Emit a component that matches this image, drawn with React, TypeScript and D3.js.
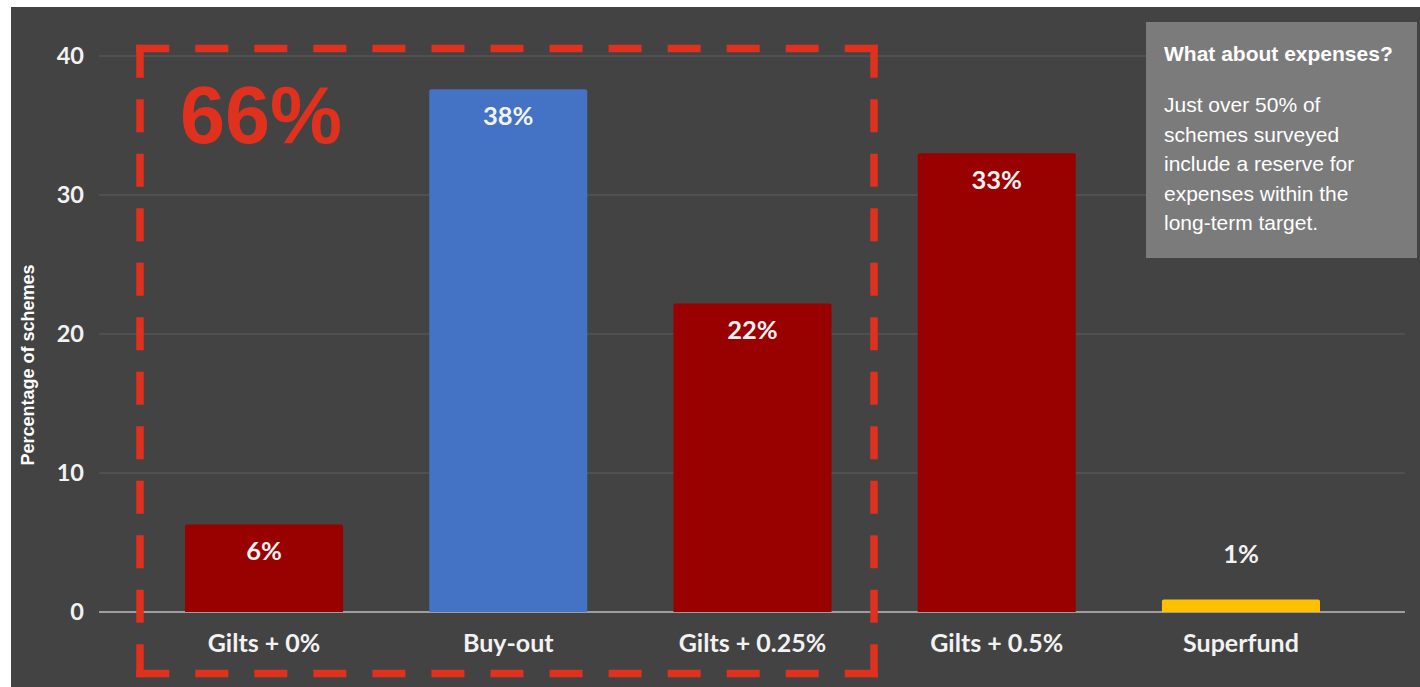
import React from "react";
import * as d3 from "d3";

const categories = ["Gilts + 0%", "Buy-out", "Gilts + 0.25%", "Gilts + 0.5%", "Superfund"];
const values = [6.3, 37.6, 22.2, 33.0, 0.9];
const valueLabels = ["6%", "38%", "22%", "33%", "1%"];
const barColors = ["#990000", "#4472C4", "#990000", "#990000", "#FFC000"];
const yTicks = [0, 10, 20, 30, 40];
const highlightLabel = "66%";
const boxTitle = "What about expenses?";
const boxLines = [
  "Just over 50% of",
  "schemes surveyed",
  "include a reserve for",
  "expenses within the",
  "long-term target.",
];
const yTitle = "Percentage of schemes";

const W = 1420;
const H = 687;
const labelFont = "Lato, 'Open Sans', sans-serif";
const arial = "'Liberation Sans', Arial, sans-serif";

function dashedSide(x1: number, y1: number, x2: number, y2: number, sw: number, key: string) {
  const len0 = Math.hypot(x2 - x1, y2 - y1);
  const ux = (x2 - x1) / len0;
  const uy = (y2 - y1) / len0;
  const ax = x1 - ux * sw / 2;
  const ay = y1 - uy * sw / 2;
  const bx = x2 + ux * sw / 2;
  const by = y2 + uy * sw / 2;
  const L = len0 + sw;
  const d = 33;
  const g = 24;
  const n = Math.round((L + g) / (d + g));
  const gap = (L - n * d) / (n - 1);
  return (
    <line
      key={key}
      x1={ax}
      y1={ay}
      x2={bx}
      y2={by}
      stroke="#E0301E"
      strokeWidth={sw}
      strokeDasharray={`${d} ${gap}`}
    />
  );
}

export default function App() {
  const y = d3.scaleLinear().domain([0, 40]).range([612, 56]);
  const x = d3
    .scaleBand<string>()
    .domain(categories)
    .range([141.9, 1363.1])
    .paddingInner(0.353)
    .paddingOuter(0.1765);

  const rx0 = 140, ry0 = 48.5, rx1 = 874, ry1 = 673.5, sw = 7.5;

  return (
    <div style={{ position: "fixed", left: 0, top: 0, width: W, height: H }}>
      <svg width={W} height={H} style={{ display: "block" }}>
        <rect x={0} y={0} width={W} height={H} fill="#ffffff" />
        <rect x={11} y={7} width={W - 11} height={H - 7} fill="#434343" />

        {yTicks.map((t) => (
          <line
            key={"g" + t}
            x1={99}
            x2={1405}
            y1={y(t)}
            y2={y(t)}
            stroke={t === 0 ? "#bdbdbd" : "#5e5e5e"}
            strokeWidth={t === 0 ? 1.5 : 1}
          />
        ))}
        {yTicks.map((t) => (
          <text
            key={"t" + t}
            x={84}
            y={y(t)}
            dy="0.36em"
            textAnchor="end"
            fill="#f2f2f2"
            fontFamily={labelFont}
            fontWeight={700}
            fontSize={23.5}
          >
            {t}
          </text>
        ))}

        <text
          transform={`translate(34,365) rotate(-90)`}
          textAnchor="middle"
          fill="#ffffff"
          fontFamily={arial}
          fontWeight={700}
          fontSize={18}
        >
          {yTitle}
        </text>

        {categories.map((c, i) => {
          const bx = x(c)!;
          const bw = x.bandwidth();
          const top = y(values[i]);
          return (
            <path
              key={"b" + c}
              d={`M${bx},${y(0)} V${top + 2} Q${bx},${top} ${bx + 2},${top} H${bx + bw - 2} Q${bx + bw},${top} ${bx + bw},${top + 2} V${y(0)} Z`}
              fill={barColors[i]}
            />
          );
        })}

        {categories.map((c, i) => {
          const cx = x(c)! + x.bandwidth() / 2;
          const top = y(values[i]);
          const h = y(0) - top;
          const by = h > 45 ? top + 36 : top - 36;
          return (
            <text
              key={"v" + c}
              x={cx}
              y={by}
              textAnchor="middle"
              fill="#f2f2f2"
              fontFamily={labelFont}
              fontWeight={700}
              fontSize={25.5}
            >
              {valueLabels[i]}
            </text>
          );
        })}

        {categories.map((c) => (
          <text
            key={"c" + c}
            x={x(c)! + x.bandwidth() / 2}
            y={652}
            textAnchor="middle"
            fill="#f2f2f2"
            fontFamily={labelFont}
            fontWeight={700}
            fontSize={25}
          >
            {c}
          </text>
        ))}

        {dashedSide(rx0, ry0, rx1, ry0, sw, "top")}
        {dashedSide(rx0, ry1, rx1, ry1, sw, "bottom")}
        {dashedSide(rx0, ry0, rx0, ry1, sw, "left")}
        {dashedSide(rx1, ry0, rx1, ry1, sw, "right")}

        <text
          x={180}
          y={143}
          fill="#E0301E"
          fontFamily={arial}
          fontWeight={700}
          fontSize={81}
        >
          {highlightLabel}
        </text>

        <rect x={1146} y={22} width={271} height={236} fill="#7b7b7b" />
        <text x={1164} y={61} fill="#ffffff" fontFamily={arial} fontWeight={700} fontSize={21}>
          {boxTitle}
        </text>
        {boxLines.map((l, i) => (
          <text
            key={"l" + i}
            x={1164}
            y={112 + i * 29.5}
            fill="#ffffff"
            fontFamily={arial}
            fontSize={21}
          >
            {l}
          </text>
        ))}
      </svg>
    </div>
  );
}
